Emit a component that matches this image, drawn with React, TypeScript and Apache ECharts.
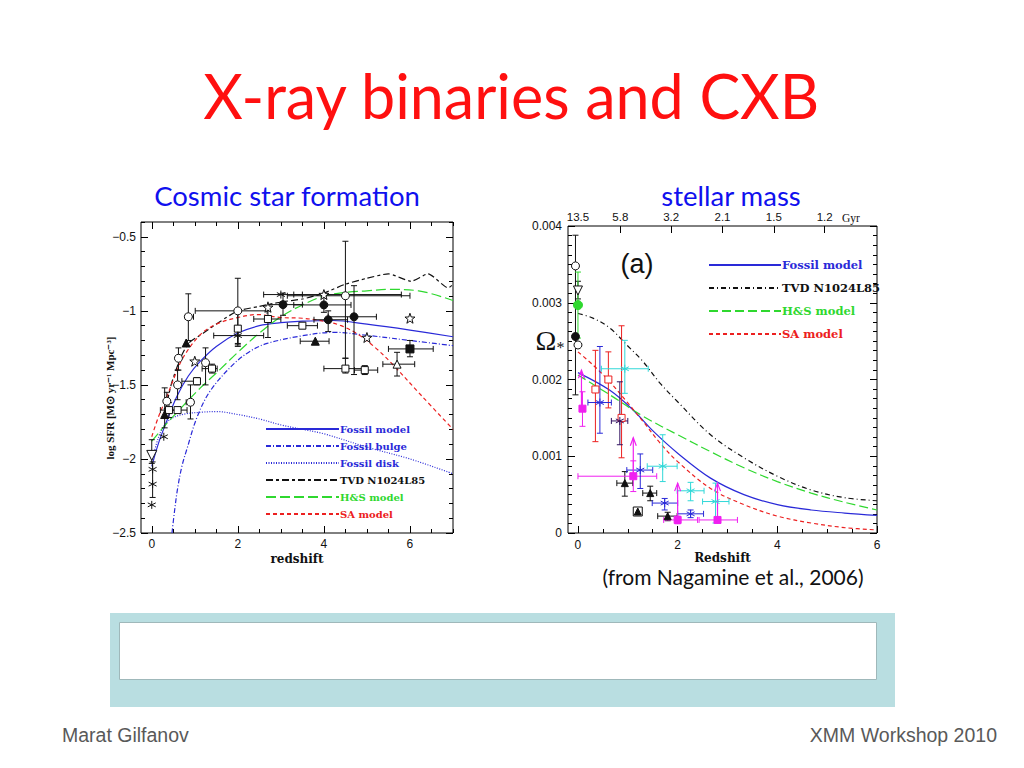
import React, { useEffect, useRef } from 'react';
import * as echarts from 'echarts';

// ---------------- Left panel: cosmic star formation history ----------------
const sfrFossilModel = [[0,-2.05],[0.15,-1.9],[0.3,-1.78],[0.58,-1.58],[0.85,-1.44],[1.13,-1.34],[1.5,-1.24],[2,-1.15],[2.5,-1.1],[3,-1.08],[3.5,-1.07],[4.2,-1.065],[5,-1.09],[6,-1.13],[7,-1.175]];
const sfrFossilBulge = [[0.47,-2.5],[0.53,-2.35],[0.6,-2.2],[0.7,-2.05],[0.82,-1.93],[1.05,-1.72],[1.36,-1.54],[1.9,-1.36],[2.3,-1.27],[2.68,-1.22],[3.46,-1.17],[4.24,-1.145],[5,-1.165],[6,-1.2],[7,-1.235]];
const sfrFossilDisk = [[0,-2.02],[0.15,-1.86],[0.3,-1.77],[0.5,-1.72],[0.8,-1.695],[1.13,-1.685],[1.5,-1.68],[2,-1.7],[2.5,-1.73],[3,-1.77],[3.5,-1.8],[4,-1.83],[5,-1.92],[6,-2.0],[7,-2.1]];
const sfrTVD = [[0.28,-1.72],[0.45,-1.5],[0.65,-1.33],[0.85,-1.22],[1.2,-1.15],[1.6,-1.07],[2,-1.0],[2.5,-0.97],[3,-0.94],[3.5,-0.92],[4,-0.88],[4.5,-0.82],[5,-0.78],[5.5,-0.75],[6.03,-0.8],[6.42,-0.75],[6.89,-0.845],[7,-0.82]];
const sfrHS = [[0,-1.88],[0.35,-1.76],[0.7,-1.65],[1.13,-1.52],[1.5,-1.42],[2,-1.28],[2.5,-1.15],[3,-1.04],[3.5,-0.96],[4,-0.9],[4.5,-0.875],[5,-0.865],[5.5,-0.855],[6.2,-0.865],[7,-0.93]];
const sfrSA = [[0,-1.85],[0.15,-1.72],[0.35,-1.58],[0.55,-1.43],[0.74,-1.31],[1.13,-1.16],[1.5,-1.09],[2,-1.045],[2.45,-1.025],[3,-1.045],[3.5,-1.05],[4,-1.07],[4.4,-1.1],[4.8,-1.16],[5.2,-1.25],[5.56,-1.35],[6.26,-1.57],[7,-1.8]];

// observed points: [z, logSFR, zLo, zHi, yLo, yHi]
const sfrOpenCircle = [[0.35,-1.61,0.35,0.35,-1.66,-1.55],[0.62,-1.32,0.62,0.62,-1.4,-1.25],[0.85,-1.04,0.78,0.97,-1.2,-0.885],[0.6,-1.5,0.6,0.6,-1.6,-1.4],[0.9,-1.617,0.8,0.97,-1.73,-1.5],[1.25,-1.35,1.25,1.25,-1.5,-1.25],[2.0,-1.0,1.01,2.68,-1.22,-0.78],[4.5,-0.898,3.15,6.0,-1.32,-0.53]];
const sfrOpenSquare = [[0.4,-1.67,0.2,0.6,-1.72,-1.62],[0.6,-1.67,0.45,0.82,-1.67,-1.67],[1.05,-1.475,0.7,1.13,-1.5,-1.45],[1.4,-1.39,1.17,1.52,-1.42,-1.36],[2.0,-1.12,2.0,2.0,-1.24,-1.0],[2.7,-1.055,2.37,3.0,-1.18,-1.0],[3.5,-1.1,3.15,3.85,-1.12,-1.08],[4.5,-1.39,4.0,5.0,-1.42,-1.32],[4.95,-1.4,4.71,5.25,-1.43,-1.37]];
const sfrFilledCircle = [[3.05,-0.958,2.7,3.5,-1.03,-0.88],[4.0,-0.96,3.3,4.63,-1.01,-0.9],[4.1,-1.06,3.77,4.55,-1.14,-1.0],[4.7,-1.04,4.1,5.22,-1.43,-0.83]];
const sfrFilledTriangle = [[0.3,-1.7,0.3,0.3,-1.79,-1.52],[0.8,-1.217,0.8,0.8,-1.217,-1.217],[3.8,-1.205,3.45,4.12,-1.205,-1.205]];
const sfrFilledSquare = [[6.0,-1.257,5.5,6.54,-1.31,-1.2]];
const sfrOpenTriangle = [[5.7,-1.36,5.37,6.11,-1.44,-1.28]];
const sfrOpenStar = [[1.0,-1.34,1.0,1.0,-1.34,-1.34],[2.7,-0.976,2.7,2.7,-0.976,-0.976],[4.0,-0.89,3.3,5.8,-0.89,-0.89],[5.0,-1.18,5.0,5.0,-1.18,-1.18],[6.0,-1.05,6.0,6.0,-1.05,-1.05]];
const sfrAsterisk = [[0.02,-2.07,0.02,0.02,-2.07,-2.07],[0.02,-2.17,0.02,0.02,-2.26,-2.02],[0.0,-2.31,0,0,-2.31,-2.31],[0.28,-1.85,0.28,0.28,-1.85,-1.85],[2.0,-1.167,1.44,2.6,-1.23,-1.1],[3.0,-0.89,2.6,3.5,-0.89,-0.89]];
const sfrInvTriangle = [[0,-1.976,0,0,-2.03,-1.87]];

// ---------------- Right panel: stellar mass density ----------------
const omFossil = [[0,0.00209],[0.64,0.00186],[1.11,0.0016],[1.52,0.00132],[2,0.00104],[2.66,0.000715],[3.33,0.0005],[4,0.00037],[4.68,0.0003],[5.35,0.00026],[6,0.00023]];
const omTVD = [[0,0.00286],[0.3,0.0028],[0.64,0.00267],[0.98,0.00245],[1.31,0.00223],[1.65,0.00195],[2,0.00171],[2.66,0.00128],[3.33,0.00098],[4,0.00074],[4.68,0.00056],[5.35,0.00046],[6,0.00042]];
const omHS = [[0,0.00206],[0.64,0.0018],[1.31,0.00152],[2,0.00128],[2.66,0.00106],[3.33,0.00085],[4,0.00067],[4.68,0.00052],[5.35,0.0004],[6,0.0003]];
const omSA = [[0,0.00236],[0.3,0.00219],[0.64,0.00197],[0.98,0.00171],[1.31,0.00145],[1.65,0.00117],[2,0.00093],[2.66,0.00058],[3.33,0.00037],[4,0.00022],[4.68,0.00013],[5.35,0.00007],[6,0.00004]];

// [z, omega, zLo, zHi, yLo, yHi]
const omBlackOpenCircle = [[-0.05,0.00348,-0.05,-0.05,0.0018,0.00388],[0.0,0.00245,0,0,0.00245,0.00245]];
const omBlackFilledCircle = [[-0.05,0.00256,-0.05,-0.05,0.00256,0.00256]];
const omBlackInvTriangle = [[0.0,0.00316,0,0,0.00305,0.00328]];
const omBlackTriangle = [[0.94,0.00065,0.78,1.1,0.00048,0.0008],[1.45,0.00052,1.3,1.58,0.00042,0.00061],[1.8,0.00022,1.6,1.99,0.00016,0.00027],[1.2,0.00028,1.2,1.2,0.00028,0.00028]];
const omBlackBox = [[1.2,0.00028,1.2,1.2,0.00028,0.00028]];
const omGreen = [[0.0,0.00297,0,0,0.00254,0.0034]];
const omMagenta = [[0.09,0.00162,0.09,0.09,0.00139,0.00184],[1.11,0.00074,0.0,1.58,0.00054,0.00094],[2.0,0.00017,1.72,2.4,0.00012,0.00022],[2.8,0.00017,2.43,3.2,0.00017,0.00017]];
const omMagentaLimit = [[0.07,0.0016,0.00212],[1.11,0.00074,0.00124],[2.0,0.00017,0.00065],[2.8,0.00017,0.00065]];
const omRed = [[0.35,0.00187,0.35,0.35,0.00119,0.00238],[0.61,0.002,0.61,0.61,0.00163,0.00236],[0.875,0.0015,0.875,0.875,0.00098,0.0027]];
const omBlue = [[0.44,0.0017,0.2,0.67,0.0013,0.00243],[1.25,0.00082,0.98,1.5,0.00058,0.00103],[1.74,0.00039,1.49,2.0,0.0003,0.00045],[2.26,0.00025,2.0,2.52,0.0002,0.0003]];
const omNavy = [[0.84,0.00146,0.67,1.0,0.00115,0.00197]];
const omCyan = [[0.94,0.00214,0.47,1.41,0.00182,0.00251],[1.7,0.00087,1.39,1.99,0.00067,0.00128],[2.26,0.00055,1.99,2.53,0.00042,0.00066],[2.76,0.00041,2.5,3.03,0.00013,0.00065]];

// ---------------- Tick labels ----------------
const leftXTicks = [0, 2, 4, 6];
const leftYTicks = [-2.5, -2, -1.5, -1, -0.5];
const rightXTicks = [0, 2, 4, 6];
const rightYTicks = [0, 0.001, 0.002, 0.003, 0.004];
const ageTickZ = [0, 0.85, 1.87, 2.9, 3.93, 4.95];
const ageTickLabels = ['13.5', '5.8', '3.2', '2.1', '1.5', '1.2'];

const leftLegend = ['Fossil model', 'Fossil bulge', 'Fossil disk', 'TVD N1024L85', 'H&S model', 'SA model'];
const rightLegend = ['Fossil model', 'TVD N1024L85', 'H&S model', 'SA model'];

const BLUE = '#2a2ad8';
const GREEN = '#2fd82f';
const RED = '#ec2020';
const MAGENTA = '#f020f0';
const CYAN = '#30d8d8';

function steps(a: number, b: number, s: number, skip: number[]) {
  const out: number[] = [];
  for (let i = 0; a + i * s <= b + 1e-9; i++) {
    const v = +(a + i * s).toFixed(6);
    if (!skip.some((k) => Math.abs(k - v) < 1e-9)) out.push(v);
  }
  return out;
}

const STAR = 'path://M0,-10L2.35,-3.24L9.51,-3.09L3.8,1.24L5.88,8.09L0,4L-5.88,8.09L-3.8,1.24L-9.51,-3.09L-2.35,-3.24Z';
const ASTER = 'path://M0,0L0,20M-8.66,5L8.66,15M-8.66,15L8.66,5';

function errRender(color: string, cap: number) {
  return (params: any, api: any) => {
    const x = api.value(0), y = api.value(1);
    const xlo = api.value(2), xhi = api.value(3), ylo = api.value(4), yhi = api.value(5);
    const st = { stroke: color, lineWidth: 1 };
    const ch: any[] = [];
    if (Math.abs(yhi - ylo) > 1e-12) {
      const a = api.coord([x, ylo]), b = api.coord([x, yhi]);
      ch.push({ type: 'line', shape: { x1: a[0], y1: a[1], x2: b[0], y2: b[1] }, style: st });
      ch.push({ type: 'line', shape: { x1: a[0] - cap, y1: a[1], x2: a[0] + cap, y2: a[1] }, style: st });
      ch.push({ type: 'line', shape: { x1: b[0] - cap, y1: b[1], x2: b[0] + cap, y2: b[1] }, style: st });
    }
    if (Math.abs(xhi - xlo) > 1e-12) {
      const a = api.coord([xlo, y]), b = api.coord([xhi, y]);
      ch.push({ type: 'line', shape: { x1: a[0], y1: a[1], x2: b[0], y2: b[1] }, style: st });
      ch.push({ type: 'line', shape: { x1: a[0], y1: a[1] - cap, x2: a[0], y2: a[1] + cap }, style: st });
      ch.push({ type: 'line', shape: { x1: b[0], y1: b[1] - cap, x2: b[0], y2: b[1] + cap }, style: st });
    }
    return { type: 'group', children: ch };
  };
}

function arrowRender(color: string) {
  return (params: any, api: any) => {
    const a = api.coord([api.value(0), api.value(1)]);
    const b = api.coord([api.value(0), api.value(2)]);
    const st = { stroke: color, lineWidth: 1.2, fill: 'none' };
    return {
      type: 'group',
      children: [
        { type: 'line', shape: { x1: a[0], y1: a[1], x2: b[0], y2: b[1] }, style: st },
        { type: 'polyline', shape: { points: [[b[0] - 3, b[1] + 8], [b[0], b[1]], [b[0] + 3, b[1] + 8]] }, style: st },
      ],
    };
  };
}

export default function App() {
  const ref = useRef<HTMLDivElement>(null);
  useEffect(() => {
    if (!ref.current) return;
    const chart = echarts.init(ref.current, null, { renderer: 'svg' });
    const tickFont = { fontFamily: 'Liberation Sans', fontSize: 12, color: '#111' };
    const nameFont = { fontFamily: 'DejaVu Serif', fontWeight: 'bold' as const, fontSize: 12, color: '#111' };

    const xAx = (grid: number, min: number, max: number, pos: string, ticks: number[], len: number, labels?: any, name?: string, gap = 20) => ({
      type: 'value', gridIndex: grid, min, max, position: pos,
      axisLine: { show: false, onZero: false },
      splitLine: { show: false },
      axisTick: { show: true, inside: true, length: len, customValues: ticks, lineStyle: { color: '#000', width: 1 } },
      axisLabel: labels ? labels : { show: false },
      name: name || '', nameLocation: 'middle', nameGap: gap, nameTextStyle: nameFont,
    });
    const yAx = (grid: number, min: number, max: number, pos: string, ticks: number[], len: number, labels?: any) => ({
      type: 'value', gridIndex: grid, min, max, position: pos,
      axisLine: { show: false, onZero: false },
      splitLine: { show: false },
      axisTick: { show: true, inside: true, length: len, customValues: ticks, lineStyle: { color: '#000', width: 1 } },
      axisLabel: labels ? labels : { show: false },
    });

    const LXMIN = -0.25, LXMAX = 7, LYMIN = -2.5, LYMAX = -0.4;
    const RXMIN = -0.2, RXMAX = 6, RYMIN = 0, RYMAX = 0.004;
    const lxMinor = steps(0, 7, 0.5, leftXTicks);
    const lyMinor = steps(-2.5, -0.4, 0.1, leftYTicks);
    const rxMinor = steps(0, 6, 0.5, rightXTicks);
    const ryMinor = steps(0, 0.004, 0.000125, rightYTicks);

    const fmtL = (v: number) => (v < 0 ? '\u2212' : '') + String(Math.abs(v));
    const fmtR = (v: number) => (Math.abs(v) < 1e-12 ? '0' : v.toFixed(3));

    const xAxis = [
      xAx(0, LXMIN, LXMAX, 'bottom', leftXTicks, 7, { show: true, customValues: leftXTicks, margin: 5, ...tickFont }, 'redshift', 20),
      xAx(0, LXMIN, LXMAX, 'bottom', lxMinor, 4),
      xAx(0, LXMIN, LXMAX, 'top', leftXTicks, 7),
      xAx(0, LXMIN, LXMAX, 'top', lxMinor, 4),
      xAx(1, RXMIN, RXMAX, 'bottom', rightXTicks, 7, { show: true, customValues: rightXTicks, margin: 6, ...tickFont }, 'Redshift', 15),
      xAx(1, RXMIN, RXMAX, 'bottom', rxMinor, 4),
      xAx(1, RXMIN, RXMAX, 'top', ageTickZ.slice(1), 7, {
        show: true, customValues: ageTickZ, margin: 3, ...tickFont, fontSize: 11.5,
        formatter: (v: number) => {
          let bi = 0;
          ageTickZ.forEach((z, i) => { if (Math.abs(z - v) < Math.abs(ageTickZ[bi] - v)) bi = i; });
          return ageTickLabels[bi];
        },
      }),
    ];
    const yAxis = [
      yAx(0, LYMIN, LYMAX, 'left', leftYTicks, 7, { show: true, customValues: leftYTicks, margin: 5, formatter: fmtL, ...tickFont }),
      yAx(0, LYMIN, LYMAX, 'left', lyMinor, 4),
      yAx(0, LYMIN, LYMAX, 'right', leftYTicks, 7),
      yAx(0, LYMIN, LYMAX, 'right', lyMinor, 4),
      yAx(1, RYMIN, RYMAX, 'left', rightYTicks, 7, { show: true, customValues: rightYTicks, margin: 6, formatter: fmtR, ...tickFont }),
      yAx(1, RYMIN, RYMAX, 'left', ryMinor, 4),
      yAx(1, RYMIN, RYMAX, 'right', rightYTicks, 7),
      yAx(1, RYMIN, RYMAX, 'right', ryMinor, 4),
    ];

    const line = (name: string, data: number[][], color: string, type: any, gi: number, width = 1.2, smooth: any = 0.35) => ({
      type: 'line', name, data, xAxisIndex: gi === 0 ? 0 : 4, yAxisIndex: gi === 0 ? 0 : 4,
      symbol: 'none', showSymbol: false, smooth, clip: true, z: 3,
      lineStyle: { color, width, type },
      itemStyle: { color },
    });
    const err = (data: number[][], color: string, gi: number, cap = 3) => ({
      type: 'custom', data, xAxisIndex: gi === 0 ? 0 : 4, yAxisIndex: gi === 0 ? 0 : 4,
      renderItem: errRender(color, cap), encode: { x: 0, y: 1 }, z: 4, clip: true, silent: true,
    });
    const pts = (data: number[][], gi: number, symbol: string, size: number, fill: string, stroke: string, rotate = 0) => ({
      type: 'scatter', data: data.map((d) => [d[0], d[1]]), xAxisIndex: gi === 0 ? 0 : 4, yAxisIndex: gi === 0 ? 0 : 4,
      symbol, symbolSize: size, symbolRotate: rotate, z: 5, silent: true,
      itemStyle: { color: fill, borderColor: stroke, borderWidth: 1, opacity: 1 },
    });

    const series: any[] = [
      line('L:Fossil model', sfrFossilModel, BLUE, 'solid', 0),
      line('L:Fossil bulge', sfrFossilBulge, BLUE, [5, 2, 1, 2], 0),
      line('L:Fossil disk', sfrFossilDisk, BLUE, [1, 1.5], 0),
      line('L:TVD N1024L85', sfrTVD, '#111', [7, 3, 3, 3], 0, 1.2, 0.2),
      line('L:H&S model', sfrHS, GREEN, [10, 4], 0),
      line('L:SA model', sfrSA, RED, [4, 3], 0),
      err([...sfrOpenCircle, ...sfrOpenSquare, ...sfrFilledCircle, ...sfrFilledTriangle, ...sfrFilledSquare, ...sfrOpenTriangle, ...sfrOpenStar, ...sfrAsterisk, ...sfrInvTriangle], '#111', 0, 3),
      pts(sfrOpenCircle, 0, 'circle', 8, '#fff', '#111'),
      pts(sfrOpenSquare, 0, 'rect', 7, '#fff', '#111'),
      pts(sfrFilledCircle, 0, 'circle', 8, '#111', '#111'),
      pts(sfrFilledTriangle, 0, 'triangle', 8, '#111', '#111'),
      pts(sfrFilledSquare, 0, 'rect', 8, '#111', '#111'),
      pts(sfrOpenTriangle, 0, 'triangle', 8, '#fff', '#111'),
      pts(sfrOpenStar, 0, STAR, 10, '#fff', '#111'),
      pts(sfrAsterisk, 0, ASTER, 8, 'none', '#111'),
      pts(sfrInvTriangle, 0, 'triangle', 10, '#fff', '#111', 180),
      line('R:Fossil model', omFossil, BLUE, 'solid', 1),
      line('R:TVD N1024L85', omTVD, '#111', [5, 3, 1, 3], 1),
      line('R:H&S model', omHS, GREEN, [9, 4], 1),
      line('R:SA model', omSA, RED, [4, 3], 1),
      err([...omBlackOpenCircle, ...omBlackFilledCircle, ...omBlackInvTriangle, ...omBlackTriangle], '#111', 1, 3),
      err(omGreen, GREEN, 1, 3),
      err(omMagenta, MAGENTA, 1, 3),
      err(omRed, RED, 1, 3),
      err(omBlue, BLUE, 1, 3),
      err(omNavy, '#301060', 1, 3),
      err(omCyan, CYAN, 1, 3),
      {
        type: 'custom', data: omMagentaLimit, xAxisIndex: 4, yAxisIndex: 4,
        renderItem: arrowRender(MAGENTA), encode: { x: 0, y: 1 }, z: 4, clip: true, silent: true,
      },
      pts(omBlackOpenCircle, 1, 'circle', 8, '#fff', '#111'),
      pts(omBlackFilledCircle, 1, 'circle', 8, '#111', '#111'),
      pts(omBlackInvTriangle, 1, 'triangle', 9, '#fff', '#111', 180),
      pts(omBlackBox, 1, 'rect', 9, '#fff', '#111'),
      pts(omBlackTriangle, 1, 'triangle', 7, '#111', '#111'),
      pts(omGreen, 1, 'circle', 9, GREEN, GREEN),
      pts(omMagenta, 1, 'rect', 7, MAGENTA, MAGENTA),
      pts(omRed, 1, 'rect', 7, '#fff', RED),
      pts(omBlue, 1, ASTER, 8, 'none', BLUE),
      pts(omNavy, 1, ASTER, 8, 'none', '#301060'),
      pts(omCyan, 1, ASTER, 8, 'none', CYAN),
    ];

    const legendColor: Record<string, string> = {
      'Fossil model': BLUE, 'Fossil bulge': BLUE, 'Fossil disk': BLUE,
      'TVD N1024L85': '#111', 'H&S model': GREEN, 'SA model': RED,
    };
    const legendFont = { fontFamily: 'DejaVu Serif', fontWeight: 'bold' as const };

    const option: any = {
      animation: false,
      backgroundColor: '#ffffff',
      grid: [
        { left: 141, top: 222, width: 312, height: 311, show: true, borderColor: '#000', borderWidth: 1, backgroundColor: 'transparent' },
        { left: 568, top: 226, width: 309, height: 307, show: true, borderColor: '#000', borderWidth: 1, backgroundColor: 'transparent' },
      ],
      xAxis, yAxis,
      legend: [
        {
          orient: 'vertical', left: 260, top: 418, itemWidth: 73, itemHeight: 12, itemGap: 5,
          selectedMode: false,
          itemStyle: { opacity: 0, borderWidth: 0 },
          data: leftLegend.map((n) => ({ name: 'L:' + n, textStyle: { color: legendColor[n] } })),
          formatter: (n: string) => n.slice(2),
          textStyle: { ...legendFont, fontSize: 10, lineHeight: 12, padding: [0, 0, 0, -4] },
        },
        {
          orient: 'vertical', left: 703, top: 254, itemWidth: 72, itemHeight: 12, itemGap: 11,
          selectedMode: false,
          itemStyle: { opacity: 0, borderWidth: 0 },
          data: rightLegend.map((n) => ({ name: 'R:' + n, textStyle: { color: legendColor[n] } })),
          formatter: (n: string) => n.slice(2),
          textStyle: { ...legendFont, fontSize: 11.5, lineHeight: 12, padding: [0, 0, 0, -4] },
        },
      ],
      graphic: [
        { type: 'text', left: 'center', top: 65, style: { text: 'X-ray binaries and CXB', fill: '#ff1010', font: '61px Lato' } },
        { type: 'text', x: 287, y: 195, style: { text: 'Cosmic star formation', fill: '#1010ee', font: '27.5px Lato', align: 'center', verticalAlign: 'middle' } },
        { type: 'text', x: 731, y: 195, style: { text: 'stellar mass', fill: '#1010ee', font: '27.5px Lato', align: 'center', verticalAlign: 'middle' } },
        { type: 'text', x: 110, y: 398, rotation: Math.PI / 2, style: { text: 'log SFR [M\u2299 yr\u207B\u00B9 Mpc\u207B\u00B3]', fill: '#111', font: 'bold 11px "Liberation Serif"', align: 'center', verticalAlign: 'middle' } },
        { type: 'text', x: 637, y: 264, style: { text: '(a)', fill: '#111', font: '27px "Liberation Sans"', align: 'center', verticalAlign: 'middle' } },
        { type: 'text', x: 550, y: 340, style: { text: '{a|\u03A9}{b|*}', align: 'center', verticalAlign: 'middle', rich: { a: { font: '28px "Liberation Serif"', fill: '#111' }, b: { font: '16px "Liberation Serif"', fill: '#111', padding: [14, 0, 0, 0] } } } },
        { type: 'text', x: 851, y: 218, style: { text: 'Gyr', fill: '#111', font: '11.5px "Liberation Serif"', align: 'center', verticalAlign: 'middle' } },
        { type: 'text', x: 733, y: 576, style: { text: '(from Nagamine et al., 2006)', fill: '#111', font: '21px Lato', align: 'center', verticalAlign: 'middle' } },
        { type: 'rect', shape: { x: 110, y: 613, width: 785, height: 94 }, style: { fill: '#b9dee1' } },
        { type: 'rect', shape: { x: 119.5, y: 622.5, width: 757, height: 57 }, style: { fill: '#ffffff', stroke: '#9fb8ba', lineWidth: 1 } },
        { type: 'text', x: 62, y: 735, style: { text: 'Marat Gilfanov', fill: '#595959', font: '19.5px "Liberation Sans"', verticalAlign: 'middle' } },
        { type: 'text', x: 997, y: 735, style: { text: 'XMM Workshop 2010', fill: '#595959', font: '19.5px "Liberation Sans"', align: 'right', verticalAlign: 'middle' } },
      ],
      series,
    };
    chart.setOption(option);
    return () => chart.dispose();
  }, []);
  return <div ref={ref} style={{ position: 'absolute', left: 0, top: 0, width: 1024, height: 768 }} />;
}
